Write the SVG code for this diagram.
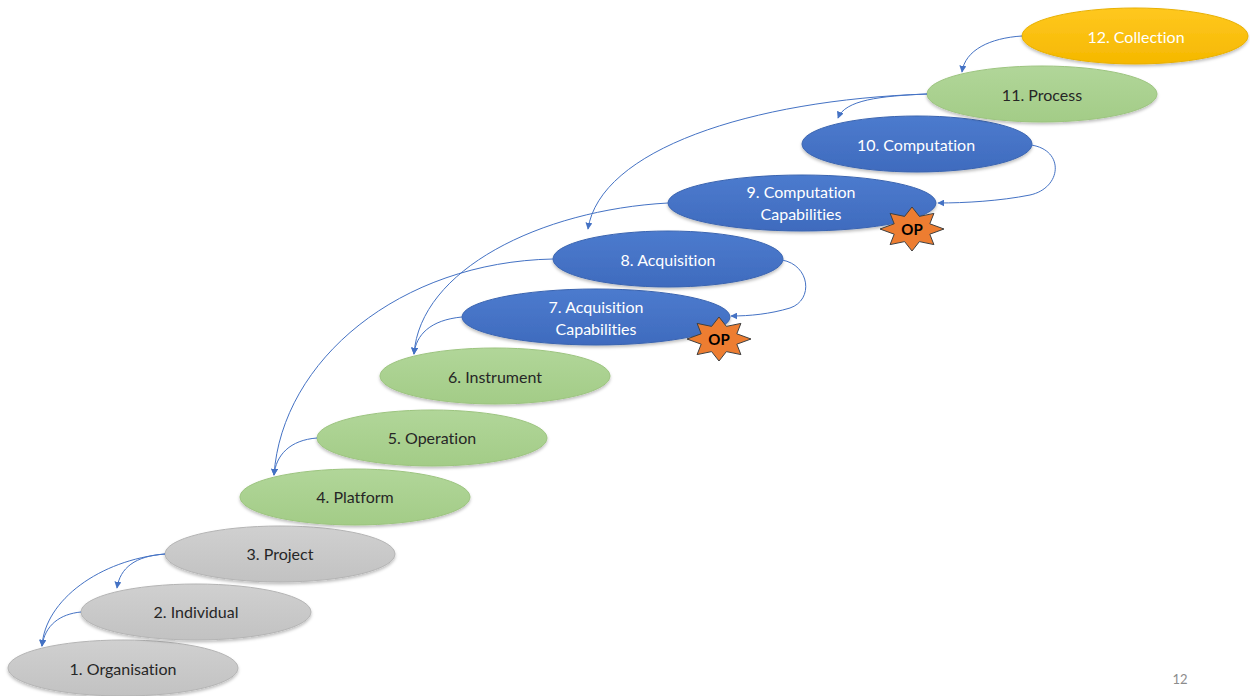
<svg xmlns="http://www.w3.org/2000/svg" width="1250" height="696" viewBox="0 0 1250 696">
<style>
  .lbl { font-family: Lato, "Open Sans", "Liberation Sans", sans-serif; font-size: 16px; text-anchor: middle; dominant-baseline: central; font-variant-ligatures: none; }
  .w { fill: #ffffff; }
  .d { fill: #262626; }
  .yellow { fill: url(#gY); stroke: #E8B000; stroke-width: 1; filter: url(#sh); }
  .green { fill: url(#gG); stroke: #9CC47F; stroke-width: 1; filter: url(#sh); }
  .blue { fill: url(#gB); stroke: #3A64B0; stroke-width: 1; filter: url(#sh); }
  .gray { fill: url(#gR); stroke: #B4B4B4; stroke-width: 1; filter: url(#sh); }
  .conn path { fill: none; stroke: #4472C4; stroke-width: 1; marker-end: url(#arr); }
  .star { fill: #ED7D31; stroke: #404040; stroke-width: 1; }
  .op { font-family: Lato, "Open Sans", "Liberation Sans", sans-serif; font-size: 15px; font-weight: bold; fill: #000; text-anchor: middle; dominant-baseline: central; }
</style>
<defs>
  <linearGradient id="gY" x1="0" y1="0" x2="0" y2="1"><stop offset="0" stop-color="#FFC820"/><stop offset="1" stop-color="#F5B800"/></linearGradient>
  <linearGradient id="gG" x1="0" y1="0" x2="0" y2="1"><stop offset="0" stop-color="#B1D699"/><stop offset="1" stop-color="#A3CC87"/></linearGradient>
  <linearGradient id="gB" x1="0" y1="0" x2="0" y2="1"><stop offset="0" stop-color="#4C7BCE"/><stop offset="1" stop-color="#3F6BBE"/></linearGradient>
  <linearGradient id="gR" x1="0" y1="0" x2="0" y2="1"><stop offset="0" stop-color="#D0D0D0"/><stop offset="1" stop-color="#C2C2C2"/></linearGradient>
  <filter id="sh" x="-10%" y="-20%" width="120%" height="150%">
    <feDropShadow dx="0" dy="2" stdDeviation="1.5" flood-color="#000" flood-opacity="0.25"/>
  </filter>
  <marker id="arr" viewBox="0 0 10 10" refX="9" refY="5" markerWidth="7" markerHeight="7" orient="auto" markerUnits="userSpaceOnUse">
    <path d="M0,0 L10,5 L0,10 z" fill="#4472C4"/>
  </marker>
  <path id="star8" d="M0,-22 L7.4,-12.6 L21.9,-15.6 L17.8,-5.2 L32,0 L17.8,5.2 L21.9,15.6 L7.4,12.6 L0,22 L-7.4,12.6 L-21.9,15.6 L-17.8,5.2 L-32,0 L-17.8,-5.2 L-21.9,-15.6 L-7.4,-12.6 Z"/>
</defs>
<rect width="1250" height="696" fill="#ffffff"/>

<g id="n1"><ellipse class="gray" cx="123" cy="668" rx="115" ry="28"/><text class="lbl d" x="123" y="668">1. Organisation</text></g>
<g id="n2"><ellipse class="gray" cx="196" cy="612" rx="115" ry="28"/><text class="lbl d" x="196" y="611">2. Individual</text></g>
<g id="n3"><ellipse class="gray" cx="280" cy="554" rx="115" ry="28"/><text class="lbl d" x="280" y="553">3. Project</text></g>
<g id="n4"><ellipse class="green" cx="355" cy="497" rx="115" ry="28"/><text class="lbl d" x="355" y="496">4. Platform</text></g>
<g id="n5"><ellipse class="green" cx="432" cy="438" rx="115" ry="28"/><text class="lbl d" x="432" y="437">5. Operation</text></g>
<g id="n6"><ellipse class="green" cx="495" cy="376" rx="115" ry="28"/><text class="lbl d" x="495" y="376">6. Instrument</text></g>
<g id="n7"><ellipse class="blue" cx="596" cy="317" rx="134" ry="28"/><text class="lbl w" x="596" y="306">7. Acquisition</text><text class="lbl w" x="596" y="328">Capabilities</text></g>
<g id="n8"><ellipse class="blue" cx="668" cy="259" rx="115" ry="28"/><text class="lbl w" x="668" y="259">8. Acquisition</text></g>
<g id="n9"><ellipse class="blue" cx="802" cy="203" rx="134" ry="28"/><text class="lbl w" x="801" y="191">9. Computation</text><text class="lbl w" x="801" y="213">Capabilities</text></g>
<g id="n10"><ellipse class="blue" cx="917" cy="144" rx="115" ry="28"/><text class="lbl w" x="916" y="144">10. Computation</text></g>
<g id="n11"><ellipse class="green" cx="1042" cy="94" rx="115" ry="28"/><text class="lbl d" x="1042" y="94">11. Process</text></g>
<g id="n12"><ellipse class="yellow" cx="1135" cy="36" rx="113" ry="28"/><text class="lbl w" x="1136" y="36">12. Collection</text></g>

<g id="op1"><use href="#star8" class="star" transform="translate(912,229)"/><text class="op" x="912" y="229">OP</text></g>
<g id="op2"><use href="#star8" class="star" transform="translate(719,339)"/><text class="op" x="719" y="339">OP</text></g>

<g id="connectors" class="conn">
  <path d="M1022,36 C990,38 965,50 962,72"/>
  <path d="M927,94 C880,96 845,100 838,118"/>
  <path d="M927,94 C750,100 600,150 588,229"/>
  <path d="M1031,145 C1065,150 1062,188 1030,195 C1000,201 965,203 938,203"/>
  <path d="M668,203 C540,210 420,270 414,354"/>
  <path d="M462,317 C430,320 416,335 414,354"/>
  <path d="M782,260 C810,265 814,300 790,308 C770,314 750,316 731,316"/>
  <path d="M553,259 C400,262 282,360 274,475"/>
  <path d="M317,438 C290,440 276,455 274,475"/>
  <path d="M165,554 C135,556 120,568 117,588"/>
  <path d="M165,554 C100,560 45,600 42,646"/>
  <path d="M81,612 C60,614 45,625 42,646"/>
</g>

<text x="1180" y="684" style="font-family: Lato, 'Liberation Sans', sans-serif; font-size: 13px; fill: #8C8C8C; text-anchor: middle;">12</text>
</svg>
